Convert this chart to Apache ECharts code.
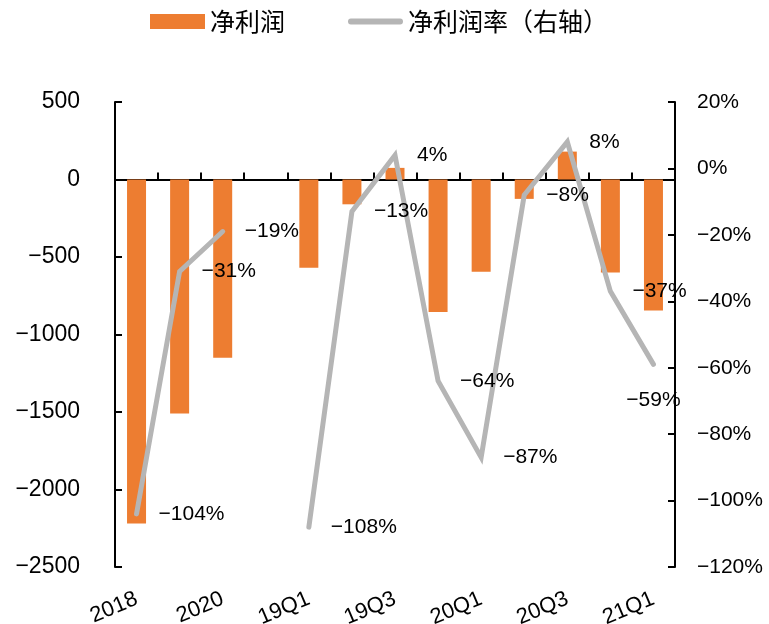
<!DOCTYPE html>
<html>
<head>
<meta charset="utf-8">
<script src="https://cdn.jsdelivr.net/npm/echarts@6/dist/echarts.min.js"></script>
<style>
  html, body { margin: 0; padding: 0; background: #ffffff; }
  #chart { width: 769px; height: 624px; }
</style>
</head>
<body>
<div id="chart"></div>
<script>
// Periods: three annual figures, a spacer, then quarterly figures
const categories = ['2018', '2019', '2020', '', '19Q1', '19Q2', '19Q3', '19Q4', '20Q1', '20Q2', '20Q3', '20Q4', '21Q1'];
// Net profit (left axis)
const netProfit = [-2220, -1510, -1150, null, -570, -160, 75, -855, -595, -125, 180, -600, -845];
// Net margin, % (right axis)
const netMargin = [-104, -31, -19, null, -108, -13, 4, -64, -87, -8, 8, -37, -59];
// Axis tick values
const leftTicks = [-2500, -2000, -1500, -1000, -500, 0, 500];
const rightTicks = [-120, -100, -80, -60, -40, -20, 0, 20];

const minus = s => String(s).replace('-', '\u2212');
const FONT = '"Liberation Sans", Arial, sans-serif';
const CJK = '"Noto Sans CJK SC", sans-serif';
const BAR_COLOR = '#ED7D31';
const LINE_COLOR = '#B5B5B5';

const marginPoints = netMargin.map((v, i) => {
  if (v === null) return null;
  if (categories[i] === '21Q1') {
    return { value: v, label: { position: 'bottom', distance: 24 } };
  }
  return v;
});

// Thick rounded stroke used as the legend key of the margin line
const lineKey = 'path://M3,0 L54,0 A3,3 0 0 1 54,6 L3,6 A3,3 0 0 1 3,0 Z';

const chart = echarts.init(document.getElementById('chart'), null, { renderer: 'canvas' });
chart.setOption({
  backgroundColor: '#ffffff',
  animation: false,
  legend: {
    left: 150,
    top: 9,
    padding: 0,
    itemWidth: 55,
    itemHeight: 15,
    itemGap: 63,
    textStyle: { fontFamily: CJK, fontSize: 25, color: '#000' },
    data: [
      { name: '净利润', icon: 'rect' },
      { name: '净利润率（右轴）', icon: lineKey, itemStyle: { color: LINE_COLOR } }
    ]
  },
  grid: { left: 115, right: 94, top: 102, bottom: 57, containLabel: false, outerBoundsMode: 'none' },
  xAxis: [
    {
      type: 'category',
      data: categories,
      position: 'bottom',
      axisLine: { show: false, onZero: false },
      axisTick: { show: false },
      axisLabel: {
        interval: 1,
        rotate: 23,
        margin: 31,
        fontFamily: FONT,
        fontSize: 22,
        color: '#000'
      }
    },
    {
      type: 'category',
      data: categories,
      position: 'bottom',
      axisLine: { show: true, onZero: true, onZeroAxisIndex: 0, lineStyle: { color: '#000', width: 2 } },
      axisTick: { show: true, inside: true, length: 7, lineStyle: { color: '#000', width: 2 } },
      axisLabel: { show: false }
    }
  ],
  yAxis: [
    {
      type: 'value',
      min: leftTicks[0],
      max: leftTicks[leftTicks.length - 1],
      interval: 500,
      splitLine: { show: false },
      axisLine: { show: true, lineStyle: { color: '#000', width: 2 } },
      axisTick: { show: true, inside: true, length: 7, lineStyle: { color: '#000', width: 2 } },
      axisLabel: {
        margin: 35,
        fontFamily: FONT,
        fontSize: 23,
        color: '#000',
        formatter: v => minus(v)
      }
    },
    {
      type: 'value',
      position: 'right',
      min: rightTicks[0],
      max: rightTicks[rightTicks.length - 1],
      interval: 20,
      splitLine: { show: false },
      axisLine: { show: true, lineStyle: { color: '#000', width: 2 } },
      axisTick: { show: true, inside: true, length: 7, lineStyle: { color: '#000', width: 2 } },
      axisLabel: {
        margin: 22,
        fontFamily: FONT,
        fontSize: 21,
        color: '#000',
        formatter: v => minus(v + '%')
      }
    }
  ],
  series: [
    {
      name: '净利润',
      type: 'bar',
      xAxisIndex: 0,
      yAxisIndex: 0,
      data: netProfit,
      barWidth: 19,
      itemStyle: { color: BAR_COLOR }
    },
    {
      name: '净利润率（右轴）',
      type: 'line',
      xAxisIndex: 0,
      yAxisIndex: 1,
      data: marginPoints,
      symbol: 'circle',
      symbolSize: 2,
      itemStyle: { color: LINE_COLOR },
      lineStyle: { color: LINE_COLOR, width: 5, cap: 'round', join: 'miter' },
      label: {
        show: true,
        position: 'right',
        distance: 21,
        fontFamily: FONT,
        fontSize: 21,
        color: '#000',
        formatter: p => minus(p.value + '%')
      }
    }
  ]
});
</script>
</body>
</html>
